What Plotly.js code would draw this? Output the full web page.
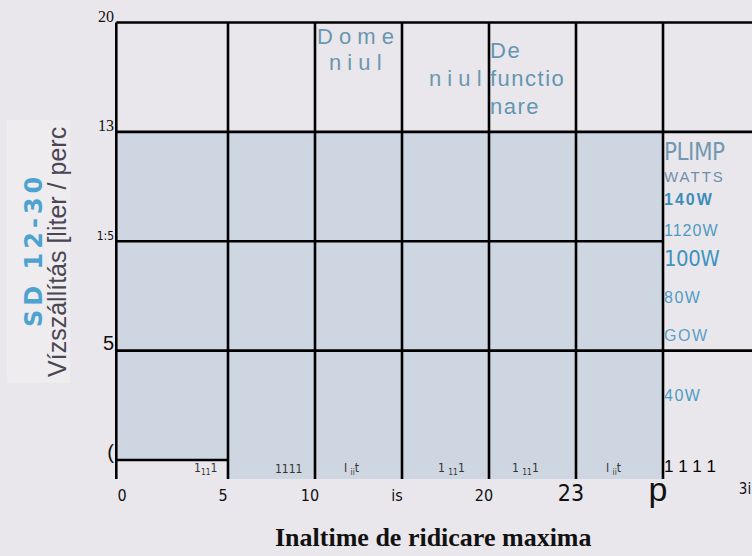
<!DOCTYPE html>
<html><head><meta charset="utf-8">
<script src="https://cdn.plot.ly/plotly-3.0.1.min.js"></script>
<style>html,body{margin:0;padding:0;background:#EAE7EC;}</style>
</head><body><div id="chart" style="width:752px;height:556px;"></div>
<script>
// ---------- values ----------
const columnEdges   = [-1.42, 5, 10, 15, 20, 25, 30];          // Inaltime cell boundaries
const columnTop     = [15, 15, 15, 15, 15, 15];                 // top of shaded band
const columnBottom  = [0, -0.87, -0.87, -0.87, -0.87, -0.87];   // bottom of shaded band
const xTickVals     = [-0.8, 5, 10, 15, 20, 25, 30, 35];
const xTickLabels   = ["0", "5", "10", "is", "20", "23", "p", "3i"];
const yTickVals     = [0, 5, 10, 15, 20];
const yTickLabels   = ["(", "5", "1:5", "13", "20"];
const rowLines      = [20, 15, 10, 5, 0];
const rowLineEnds   = [35.2, 35.2, 30, 35.2, 5];
const regionTitle   = ["D o m e", "n i u l", "n i u l", "De", "functio", "nare"];
const powerLabels   = ["PLIMP", "WATTS", "140W", "1120W", "100W", "80W", "GOW", "40W"];
const cellLabels    = ["1<sub>11</sub>1", "1111", "I <sub>ii</sub>t", "1 <sub>11</sub>1", "1 <sub>11</sub>1", "I <sub>ii</sub>t", "1 1 1 1"];
const seriesName    = "SD 12-30";
const yTitle        = "Vízszállítás [liter / perc";
const xTitle        = "Inaltime de ridicare maxima";

// ---------- layout / styling ----------
const COND = "DejaVu Sans Condensed, Liberation Sans, sans-serif";
const LINE = {color: "#000", width: 2.6};
const X_RANGE = [-1.552, 35.115];
const Y_RANGE = [-0.869, 20.114];

const mids = [], widths = [], heights = [];
for (let i = 0; i < columnTop.length; i++) {
  mids.push((columnEdges[i] + columnEdges[i + 1]) / 2);
  widths.push(columnEdges[i + 1] - columnEdges[i]);
  heights.push(columnTop[i] - columnBottom[i]);
}

const trace = {
  type: "bar", x: mids, y: heights, base: columnBottom, width: widths,
  marker: {color: "#CED6E2", line: {width: 0}}, hoverinfo: "skip", name: seriesName
};

const shapes = [];
// faint paper patch behind the y title
shapes.push({type: "rect", xref: "paper", yref: "paper", x0: -0.1677, x1: -0.069, y0: 0.209, y1: 0.782,
  fillcolor: "#EEECEF", line: {width: 0}, layer: "below"});
// vertical grid lines
for (let i = 0; i < columnEdges.length; i++) {
  shapes.push({type: "line", xref: "x", yref: "y", x0: columnEdges[i], x1: columnEdges[i],
    y0: Y_RANGE[0], y1: 20, line: LINE});
}
// horizontal grid lines
for (let i = 0; i < rowLines.length; i++) {
  shapes.push({type: "line", xref: "x", yref: "y", x0: columnEdges[0], x1: rowLineEnds[i],
    y0: rowLines[i], y1: rowLines[i], line: LINE});
}

const ls = (t, px) => `<span style="letter-spacing:${px}px">${t}</span>`;
const annotations = [];
function ann(o) { annotations.push(Object.assign({showarrow: false, xref: "x", yref: "y", yanchor: "middle"}, o)); }

const blueT = "#6A97B0";
ann({x: 12.30, y: 19.38, text: regionTitle[0], xanchor: "center", font: {family: "Liberation Sans", size: 22, color: blueT}});
ann({x: 12.30, y: 18.19, text: regionTitle[1], xanchor: "center", font: {family: "Liberation Sans", size: 22, color: blueT}});
ann({x: 19.71, y: 17.42, text: regionTitle[2], xanchor: "right", font: {family: "Liberation Sans", size: 22, color: blueT}});
ann({x: 19.95, y: 18.74, text: ls(regionTitle[3], 1.5), xanchor: "left", font: {family: "Liberation Sans", size: 22, color: "#6396B0"}});
ann({x: 19.95, y: 17.42, text: ls(regionTitle[4], 1.5), xanchor: "left", font: {family: "Liberation Sans", size: 22, color: "#6396B0"}});
ann({x: 19.95, y: 16.14, text: ls(regionTitle[5], 1.5), xanchor: "left", font: {family: "Liberation Sans", size: 22, color: "#6396B0"}});

const powerY = [14.08, 12.98, 11.93, 10.51, 9.19, 7.41, 5.71, 2.97];
const powerStyle = [
  {family: COND, size: 24, color: "#7398B0", sp: -0.5},
  {family: "Liberation Sans", size: 15, color: "#6E8FA8", sp: 2},
  {family: "Liberation Sans", size: 16, color: "#3D8DBA", sp: 2, weight: "bold"},
  {family: "Liberation Sans", size: 16, color: "#4E9BC4", sp: 1},
  {family: COND, size: 22, color: "#3F93BE", sp: -0.5},
  {family: "Liberation Sans", size: 16, color: "#4F9DC6", sp: 1.5},
  {family: "Liberation Sans", size: 16, color: "#5BA0C6", sp: 1.5},
  {family: "Liberation Sans", size: 16, color: "#4E9BC4", sp: 1.5}
];
for (let i = 0; i < powerLabels.length; i++) {
  const s = powerStyle[i];
  ann({x: 29.95, y: powerY[i], text: ls(powerLabels[i], s.sp), xanchor: "left",
    font: {family: s.family, size: s.size, color: s.color, weight: s.weight || "normal"}});
}

const cellX = [3.68, 8.45, 12.07, 17.82, 22.07, 27.18, 29.95];
for (let i = 0; i < cellLabels.length; i++) {
  const last = i === cellLabels.length - 1;
  ann({x: cellX[i], y: last ? -0.32 : -0.41, text: cellLabels[i], xanchor: last ? "left" : "center",
    font: last ? {family: "Liberation Sans", size: 17, color: "#000"} : {family: COND, size: 12, color: "#333"}});
}

// axis-side titles
annotations.push({xref: "paper", yref: "paper", x: -0.1254, y: 0.4989, xanchor: "center", yanchor: "middle",
  textangle: -90, showarrow: false,
  text: ls(seriesName, 4), font: {family: "DejaVu Sans", size: 24, color: "#4DA3CF", weight: "bold"}});
annotations.push({xref: "paper", yref: "paper", x: -0.0886, y: 0.4957, xanchor: "center", yanchor: "middle",
  textangle: -90, showarrow: false,
  text: yTitle, font: {family: "Liberation Sans", size: 25, color: "#4B4654"}});
annotations.push({xref: "paper", yref: "paper", x: 0.5, y: -0.1264, xanchor: "center", yanchor: "middle", showarrow: false,
  text: xTitle, font: {family: "Liberation Serif", size: 26, color: "#111", weight: "bold"}});

// tick label text styling
const xTickStyle = ["", "", "", "", "", "font-size:23px", "font-family:Liberation Sans;font-size:34px",
  "font-size:15px;baseline-shift:7px"];
const xTickText = xTickLabels.map((t, i) => xTickStyle[i] ? `<span style="${xTickStyle[i]}">${t}</span>` : t);
const yTickStyle = ["font-family:Liberation Sans;font-size:20px", "font-family:Liberation Sans;font-size:20px", "",
  "font-family:Liberation Serif;font-size:16px", "font-family:Liberation Serif;font-size:16px"];
const yTickText = yTickLabels.map((t, i) => yTickStyle[i] ? `<span style="${yTickStyle[i]}">${t}</span>` : t);

const layout = {
  width: 752, height: 556,
  margin: {l: 114, r: 0, t: 20, b: 77, pad: 0},
  paper_bgcolor: "#EAE7EC", plot_bgcolor: "#EAE7EC",
  showlegend: false, bargap: 0,
  xaxis: {range: X_RANGE, showgrid: false, zeroline: false, showline: false, ticks: "",
    tickmode: "array", tickvals: xTickVals, ticktext: xTickText, ticklabelshift: -5, ticklabelstandoff: 5,
    tickfont: {family: COND, size: 16, color: "#111"}, fixedrange: true},
  yaxis: {range: Y_RANGE, showgrid: false, zeroline: false, showline: false, ticks: "",
    tickmode: "array", tickvals: yTickVals, ticktext: yTickText, ticklabelshift: -5, ticklabelstandoff: -1,
    tickfont: {family: COND, size: 12, color: "#111"}, fixedrange: true},
  shapes: shapes, annotations: annotations
};

Plotly.newPlot("chart", [trace], layout, {displayModeBar: false, staticPlot: true});
</script></body></html>
